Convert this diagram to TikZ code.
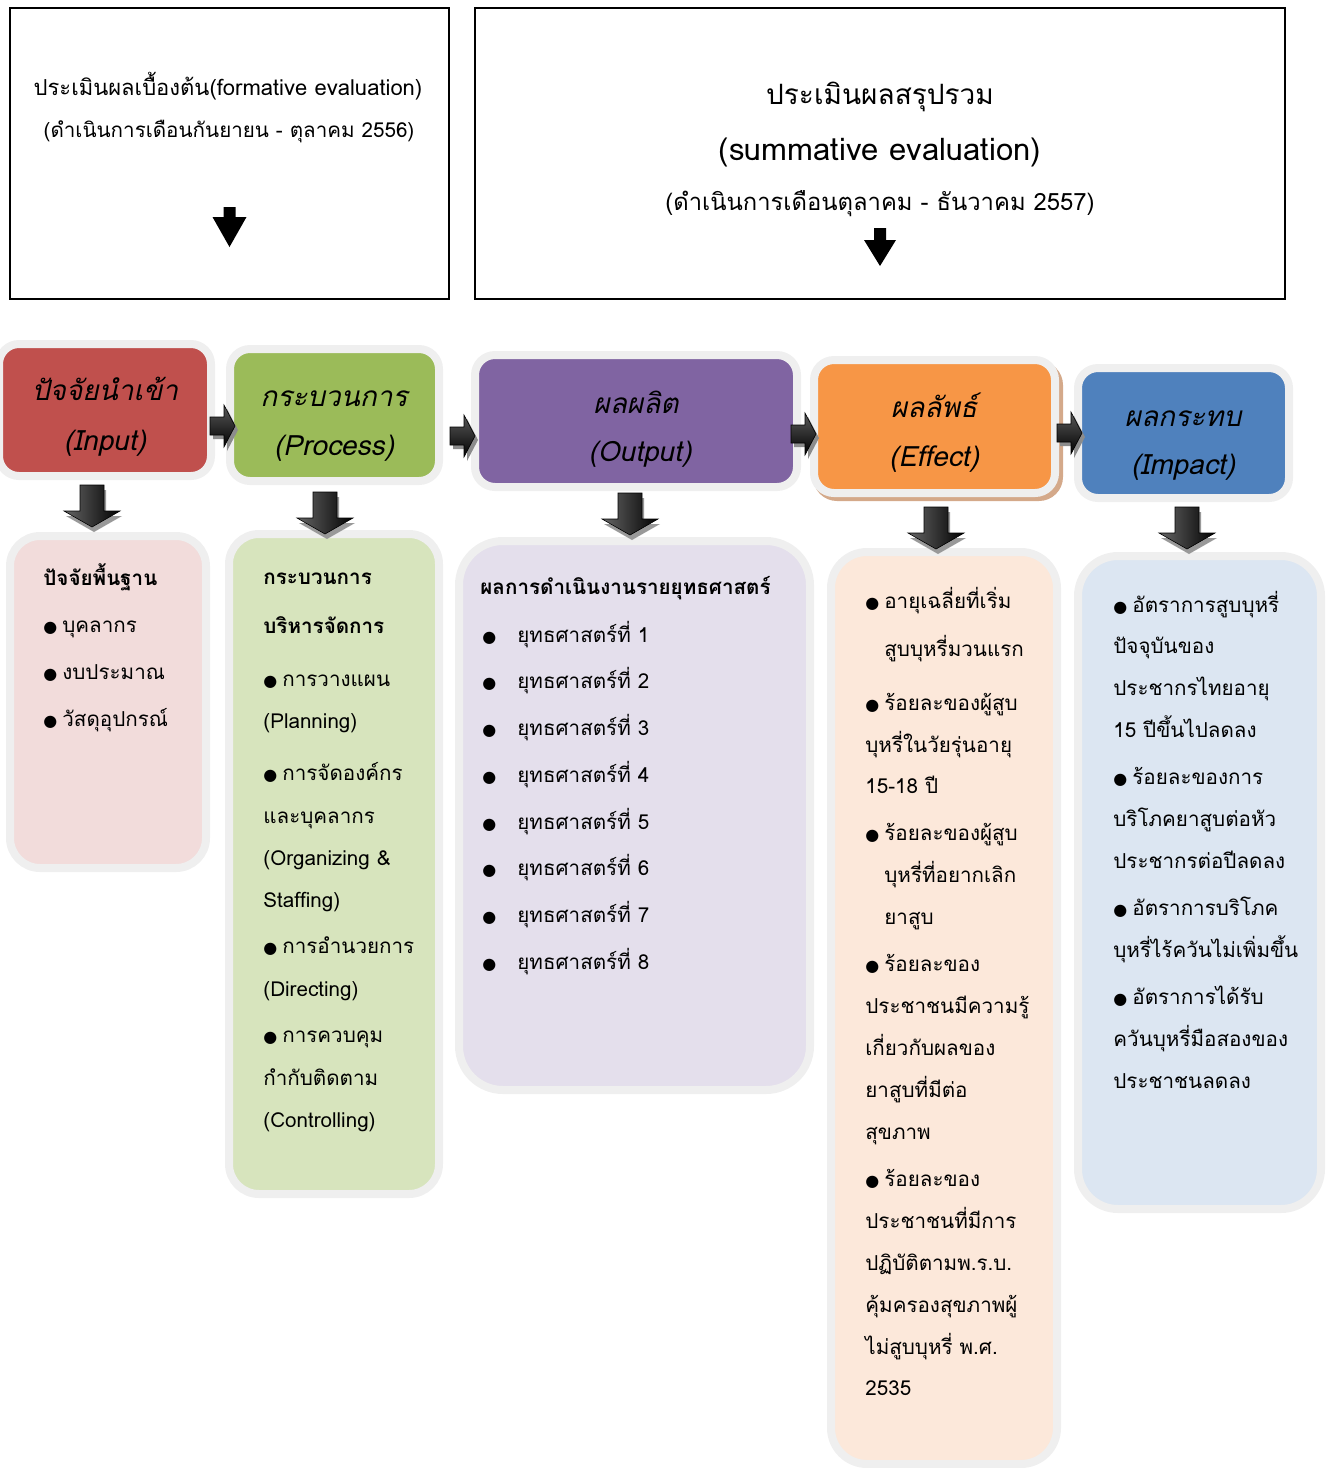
\documentclass[tikz,border=0pt]{standalone}
\usepackage{fontspec}
\setmainfont[Script=Thai]{Loma}
\newfontfamily\dejavu{DejaVu Sans}
\usetikzlibrary{calc}
\definecolor{inred}{HTML}{C0504D}
\definecolor{prgreen}{HTML}{9BBB59}
\definecolor{outpurple}{HTML}{8064A2}
\definecolor{efforange}{HTML}{F79646}
\definecolor{impblue}{HTML}{4F81BD}
\definecolor{palered}{HTML}{F2DCDB}
\definecolor{palegreen}{HTML}{D7E4BD}
\definecolor{palepurple}{HTML}{E4DFEC}
\definecolor{paleorange}{HTML}{FCE8DA}
\definecolor{paleblue}{HTML}{DCE6F2}
\definecolor{bordergray}{HTML}{EFEFEF}
\definecolor{tanshadow}{HTML}{D4A98A}
\newcommand{\bulglyph}{{\dejavu\fontsize{8}{10}\selectfont ●}}
\newcommand{\bul}{\bulglyph\hspace{2.5pt}}
\tikzset{
  hdrbox/.style={draw=bordergray, line width=4pt, rounded corners=10pt, inner sep=0pt},
  cntbox/.style={draw=bordergray, line width=4pt, rounded corners=15pt, inner sep=0pt},
  frame/.style={draw=black, line width=1pt, fill=white},
  txt/.style={anchor=base west, inner sep=0pt, font=\fontsize{10.3}{12}\selectfont},
  btxt/.style={txt, font=\fontsize{10.3}{12}\selectfont\bfseries},
  htxt/.style={anchor=base, inner sep=0pt, font=\fontsize{14}{17}\selectfont\itshape},
  ttxt/.style={anchor=base, inner sep=0pt, font=\fontsize{11}{13}\selectfont},
  ttxtd/.style={anchor=base, inner sep=0pt, font=\fontsize{10.3}{12}\selectfont},
  ttxtb/.style={anchor=base, inner sep=0pt, font=\fontsize{14}{16}\selectfont},
  ttxte/.style={anchor=base, inner sep=0pt, font=\fontsize{15.5}{18}\selectfont},
  ttxtc/.style={anchor=base, inner sep=0pt, font=\fontsize{11.9}{14}\selectfont},
}
\newcommand{\rarrow}[1]{%
  \fill[black!45, shift={(#1)}, shift={(3,4)}] (-12,-9) -- (2,-9) -- (2,-21) -- (13,0) -- (2,21) -- (2,9) -- (-12,9) -- cycle;
  \shade[top color=black!65, bottom color=black, draw=black, line width=0.3pt, shift={(#1)}] (-12,-9) -- (2,-9) -- (2,-21) -- (13,0) -- (2,21) -- (2,9) -- (-12,9) -- cycle;}
\newcommand{\darrow}[1]{%
  \fill[black!40, shift={(#1)}, shift={(2,5)}] (-12,-21) -- (12,-21) -- (12,5) -- (28,5) -- (0,21) -- (-28,5) -- (-12,5) -- cycle;
  \shade[left color=black!60, right color=black, draw=black, line width=0.3pt, shift={(#1)}] (-12,-21) -- (12,-21) -- (12,5) -- (28,5) -- (0,21) -- (-28,5) -- (-12,5) -- cycle;}
\begin{document}
\begin{tikzpicture}[x=0.5pt,y=-0.5pt]
\useasboundingbox (0,0) rectangle (1330,1468);
% top frames
\draw[frame] (10,8) rectangle (449,299);
\draw[frame] (475,8) rectangle (1285,299);
\node[ttxt] (f1) at (228,95) {ประเมินผลเบื้องต้น(formative evaluation)};
\node[ttxtd] (f2) at (229,137) {(ดำเนินการเดือนกันยายน - ตุลาคม 2556)};
\node[ttxtb] (s1) at (880,104) {ประเมินผลสรุปรวม};
\node[ttxte] (s2) at (880,160) {(summative evaluation)};
\node[ttxtc] (s3) at (880,210) {(ดำเนินการเดือนตุลาคม - ธันวาคม 2557)};
\coordinate (fa) at (229.5,207);
\coordinate (sa) at (880,228);
\fill[shift={(fa)}] (-6,0) -- (6,0) -- (6,10) -- (17,10) -- (0,40) -- (-17,10) -- (-6,10) -- cycle;
\fill[shift={(sa)}] (-6,0) -- (6,0) -- (6,12) -- (16,12) -- (0,38) -- (-16,12) -- (-6,12) -- cycle;
% header boxes
\node[hdrbox, fill=inred, minimum width=106pt, minimum height=66pt] (inH) at (105,410) {};
\node[hdrbox, fill=prgreen, minimum width=104.5pt, minimum height=66pt] (prH) at (334.5,415) {};
\node[hdrbox, fill=outpurple, minimum width=161pt, minimum height=66pt] (ouH) at (636,421) {};
\fill[tanshadow, rounded corners=12pt] (813,361) rectangle (1063,501);
\node[hdrbox, fill=efforange, minimum width=120.5pt, minimum height=66.5pt] (efH) at (934.5,426.5) {};
\node[hdrbox, fill=impblue, minimum width=105.5pt, minimum height=65pt] (imH) at (1183.5,433) {};
\node[htxt] (inT1) at (105,400) {ปัจจัยนำเข้า};
\node[htxt] (inT2) at (105,450) {(Input)};
\node[htxt] (prT1) at (334,406) {กระบวนการ};
\node[htxt] (prT2) at (334,455) {(Process)};
\node[htxt] (ouT1) at (636,413) {ผลผลิต};
\node[htxt] (ouT2) at (640,461) {(Output)};
\node[htxt] (efT1) at (934,417) {ผลลัพธ์};
\node[htxt] (efT2) at (934,466) {(Effect)};
\node[htxt] (imT1) at (1183,426) {ผลกระทบ};
\node[htxt] (imT2) at (1183,474) {(Impact)};
% right arrows
\coordinate (ra1) at (222,426);
\coordinate (ra2) at (462,436);
\coordinate (ra3) at (803,434);
\coordinate (ra4) at (1069,433);
\rarrow{ra1}\rarrow{ra2}\rarrow{ra3}\rarrow{ra4}
% content boxes
\node[cntbox, fill=palered, minimum width=98pt, minimum height=166pt] (inC) at (108,702) {};
\node[cntbox, fill=palegreen, minimum width=105pt, minimum height=330pt] (prC) at (334,864) {};
\node[cntbox, fill=palepurple, minimum width=175.5pt, minimum height=274.5pt, rounded corners=22pt] (ouC) at (634.5,815.5) {};
\node[cntbox, fill=paleorange, minimum width=113pt, minimum height=456pt, rounded corners=18pt] (efC) at (944,1008) {};
\node[cntbox, fill=paleblue, minimum width=121.5pt, minimum height=326.5pt, rounded corners=20pt] (imC) at (1199.5,882.5) {};
% down arrows
\coordinate (da1) at (92,506);
\coordinate (da2) at (325,513);
\coordinate (da3) at (630,514);
\coordinate (da4) at (936,528);
\coordinate (da5) at (1187,528);
\darrow{da1}\darrow{da2}\darrow{da3}\darrow{da4}\darrow{da5}
% input content
\node[btxt] (i0) at (43,585) {ปัจจัยพื้นฐาน};
\node[txt] (i1) at (43,632) {\bul บุคลากร};
\node[txt] (i2) at (43,679) {\bul งบประมาณ};
\node[txt] (i3) at (43,726) {\bul วัสดุอุปกรณ์};
% process content
\node[btxt] (p0) at (263,584) {กระบวนการ};
\node[btxt] (p1) at (263,633) {บริหารจัดการ};
\node[txt] (p2) at (263,686) {\bul การวางแผน};
\node[txt] (p3) at (263,728) {(Planning)};
\node[txt] (p4) at (263,780) {\bul การจัดองค์กร};
\node[txt] (p5) at (263,823) {และบุคลากร};
\node[txt] (p6) at (263,865) {(Organizing \&};
\node[txt] (p7) at (263,907) {Staffing)};
\node[txt] (p8) at (263,953) {\bul การอำนวยการ};
\node[txt] (p9) at (263,996) {(Directing)};
\node[txt] (p10) at (263,1042) {\bul การควบคุม};
\node[txt] (p11) at (263,1085) {กำกับติดตาม};
\node[txt] (p12) at (263,1127) {(Controlling)};
% output content
\node[btxt] (o0) at (480,594) {ผลการดำเนินงานรายยุทธศาสตร์};
\foreach \k/\yy in {1/642,2/688,3/735,4/782,5/829,6/875,7/922,8/969}{
  \node[txt] (ob\k) at (482,\yy) {\bulglyph};
  \node[txt] (o\k) at (517,\yy) {ยุทธศาสตร์ที่ \k};
}
% effect content
\node[txt] (e1) at (865,608) {\bul อายุเฉลี่ยที่เริ่ม};
\node[txt] (e2) at (884,656) {สูบบุหรี่มวนแรก};
\node[txt] (e3) at (865,710) {\bul ร้อยละของผู้สูบ};
\node[txt] (e4) at (865,752) {บุหรี่ในวัยรุ่นอายุ};
\node[txt] (e5) at (865,793) {15-18 ปี};
\node[txt] (e6) at (865,840) {\bul ร้อยละของผู้สูบ};
\node[txt] (e7) at (884,882) {บุหรี่ที่อยากเลิก};
\node[txt] (e8) at (884,924) {ยาสูบ};
\node[txt] (e9) at (865,971) {\bul ร้อยละของ};
\node[txt] (e10) at (865,1013) {ประชาชนมีความรู้};
\node[txt] (e11) at (865,1055) {เกี่ยวกับผลของ};
\node[txt] (e12) at (865,1097) {ยาสูบที่มีต่อ};
\node[txt] (e13) at (865,1139) {สุขภาพ};
\node[txt] (e14) at (865,1186) {\bul ร้อยละของ};
\node[txt] (e15) at (865,1228) {ประชาชนที่มีการ};
\node[txt] (e16) at (865,1270) {ปฏิบัติตามพ.ร.บ.};
\node[txt] (e17) at (865,1312) {คุ้มครองสุขภาพผู้};
\node[txt] (e18) at (865,1354) {ไม่สูบบุหรี่ พ.ศ.};
\node[txt] (e19) at (865,1395) {2535};
% impact content
\node[txt] (m1) at (1113,612) {\bul อัตราการสูบบุหรี่};
\node[txt] (m2) at (1113,653) {ปัจจุบันของ};
\node[txt] (m3) at (1113,695) {ประชากรไทยอายุ};
\node[txt] (m4) at (1113,737) {15 ปีขึ้นไปลดลง};
\node[txt] (m5) at (1113,784) {\bul ร้อยละของการ};
\node[txt] (m6) at (1113,826) {บริโภคยาสูบต่อหัว};
\node[txt] (m7) at (1113,868) {ประชากรต่อปีลดลง};
\node[txt] (m8) at (1113,915) {\bul อัตราการบริโภค};
\node[txt] (m9) at (1113,957) {บุหรี่ไร้ควันไม่เพิ่มขึ้น};
\node[txt] (m10) at (1113,1004) {\bul อัตราการได้รับ};
\node[txt] (m11) at (1113,1046) {ควันบุหรี่มือสองของ};
\node[txt] (m12) at (1113,1088) {ประชาชนลดลง};
\end{tikzpicture}
\end{document}
